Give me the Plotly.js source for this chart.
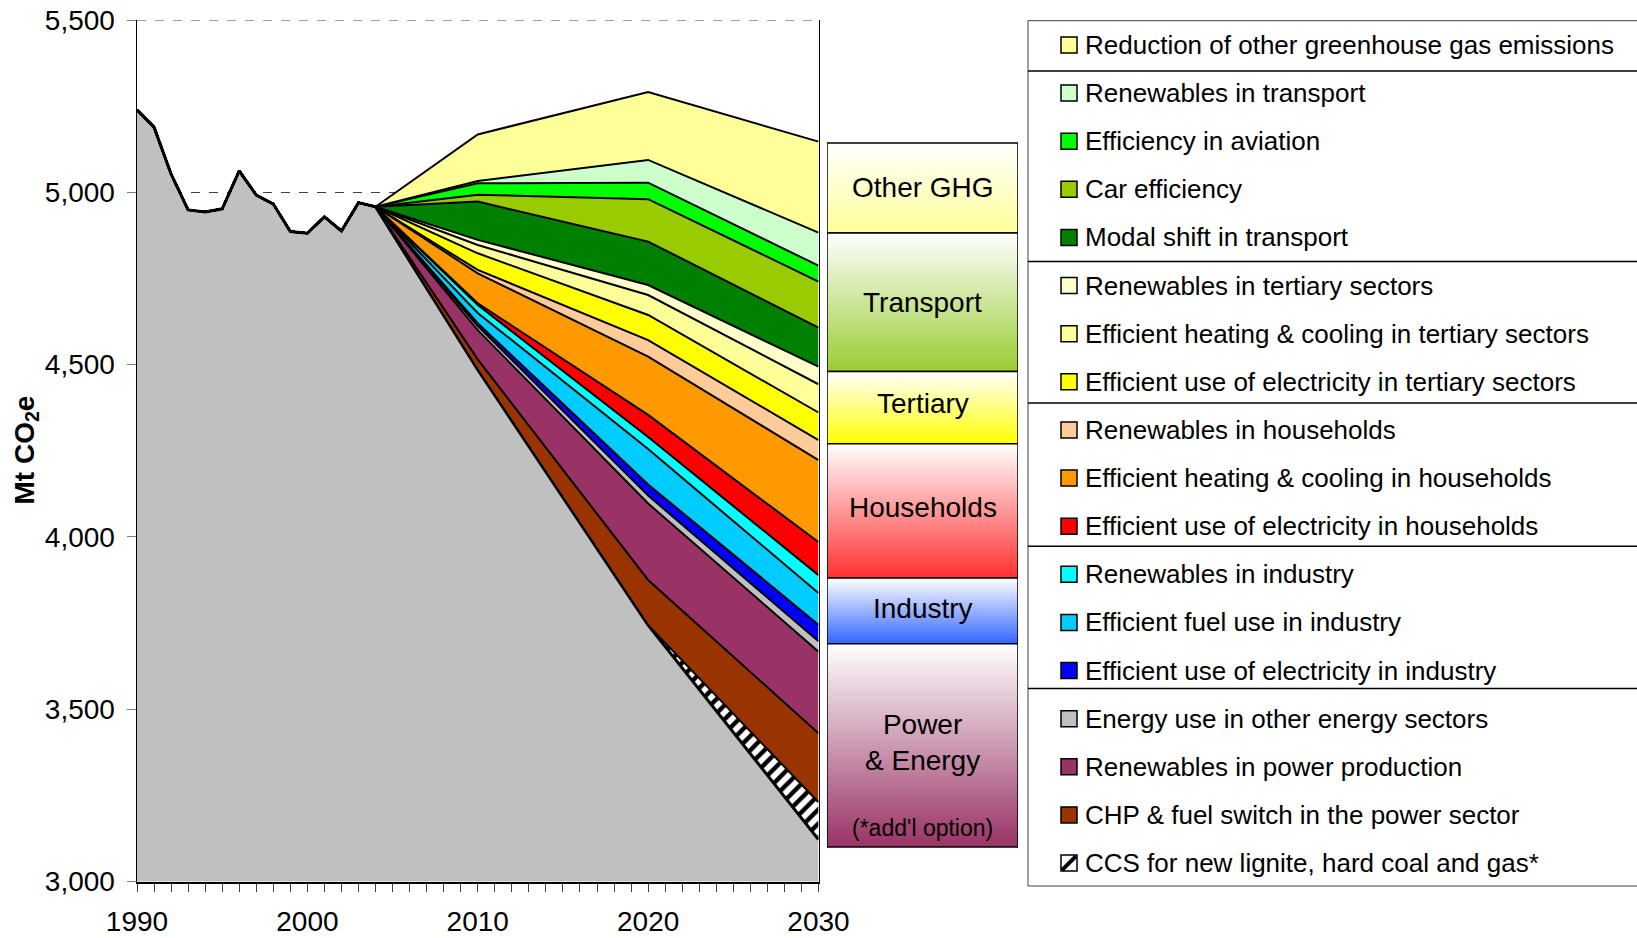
<!DOCTYPE html>
<html><head><meta charset="utf-8">
<script src="https://cdn.plot.ly/plotly-3.0.1.min.js"></script>
<style>html,body{margin:0;padding:0;background:#fff}#chart{width:1637px;height:938px}</style>
</head><body><div id="chart"></div>
<script>
// ---------- DATA ----------
const histYears = [1990,1991,1992,1993,1994,1995,1996,1997,1998,1999,2000,2001,2002,2003,2004];
const histEmissions = [5239,5189,5053,4949,4943,4952,5062,4992,4966,4886,4881,4929,4888,4970,4958];
const projYears = [2004,2010,2020,2030];
const remainingEmissions = [4958,4485,3744,3122];

// reduction wedges (Mt CO2e) at projYears, stacked bottom -> top
const ccs            = [0,0,0,108];
const chpFuelSwitch  = [0,30,131,200];
const renewPower     = [0,85,222,237];
const otherEnergy    = [0,12,23,30];
const elecIndustry   = [0,8,32,48];
const fuelIndustry   = [0,30,103,92];
const renewIndustry  = [0,23,35,52];
const elecHouseholds = [0,5,64,96];
const heatHouseholds = [0,87,169,238];
const renewHouseholds= [0,10,48,58];
const elecTertiary   = [0,48,73,80];
const heatTertiary   = [0,24,58,82];
const renewTertiary  = [0,15,29,51];
const modalShift     = [0,111,126,113];
const carEfficiency  = [0,20,123,134];
const aviation       = [0,33,48,46];
const renewTransport = [0,7,66,96];
const otherGHG       = [0,135,197,264];

const wedgeValues = [ccs,chpFuelSwitch,renewPower,otherEnergy,elecIndustry,fuelIndustry,renewIndustry,
  elecHouseholds,heatHouseholds,renewHouseholds,elecTertiary,heatTertiary,renewTertiary,
  modalShift,carEfficiency,aviation,renewTransport,otherGHG];
const wedgeNames = ['CCS for new lignite, hard coal and gas*','CHP & fuel switch in the power sector',
  'Renewables in power production','Energy use in other energy sectors',
  'Efficient use of electricity in industry','Efficient fuel use in industry','Renewables in industry',
  'Efficient use of electricity in households','Efficient heating & cooling in households','Renewables in households',
  'Efficient use of electricity in tertiary sectors','Efficient heating & cooling in tertiary sectors','Renewables in tertiary sectors',
  'Modal shift in transport','Car efficiency','Efficiency in aviation','Renewables in transport',
  'Reduction of other greenhouse gas emissions'];
const wedgeColors = ['#FFFFFF','#993300','#993366','#C0C0C0','#0000FF','#00CCFF','#00FFFF',
  '#FF0000','#FF9900','#FFCC99','#FFFF00','#FFFF99','#FFFFCC','#008000','#99CC00','#00FF00','#CCFFCC','#FFFF99'];

// sector boxes
const sectorNames = ['Other GHG','Transport','Tertiary','Households','Industry','Power<br>& Energy'];
const sectorEdges = [5143,4882,4480,4270,3881,3690,3100];
const sectorColors = ['#FFFF99','#99CC33','#FFFF00','#FF3030','#3366FF','#993366'];
const legendGroupEnds = [0,4,7,10,13]; // legend rows after which a separator is drawn

// ---------- LAYOUT HELPERS ----------
const W = 1637, H = 938;
const px = v => v / W, py = v => 1 - v / H;
const FONT = 'Liberation Sans, Arial, sans-serif';
const labelShift = [0, 0, 4, 3, 2, 3];          // small vertical nudges of sector labels (px)
const sepNudge = [2, 0, -3, -4, -6];            // separator nudges (px)

const traces = [];
traces.push({
  x: histYears.concat(projYears.slice(1)),
  y: histEmissions.concat(remainingEmissions.slice(1)),
  type: 'scatter', mode: 'lines', stackgroup: 'one', stackgaps: 'infer zero',
  fillcolor: '#C0C0C0', line: {color: '#000', width: 3}, hoverinfo: 'skip', name: 'Remaining emissions'
});
wedgeValues.forEach((vals, i) => {
  const t = {
    x: projYears, y: vals, type: 'scatter', mode: 'lines', stackgroup: 'one',
    fillcolor: wedgeColors[i], line: {color: '#000', width: 2}, hoverinfo: 'skip', name: wedgeNames[i]
  };
  if (i === 0) t.fillpattern = {shape: '/', fgcolor: '#000', bgcolor: '#FFFFFF', size: 10, solidity: 0.45};
  traces.push(t);
});

// sector boxes with vertical gradient
const annotations = [];
sectorNames.forEach((name, i) => {
  const top = sectorEdges[i], bot = sectorEdges[i + 1];
  traces.push({
    x: [0, 1, 1, 0, 0], y: [bot, bot, top, top, bot], xaxis: 'x2', yaxis: 'y',
    type: 'scatter', mode: 'lines', fill: 'toself',
    fillgradient: {type: 'vertical', colorscale: [[0, sectorColors[i]], [1, '#FFFFFF']]},
    line: {color: '#000', width: 1.5}, hoverinfo: 'skip', showlegend: false
  });
  annotations.push({
    xref: 'x2', yref: 'y', x: 0.5, y: (top + bot) / 2, yshift: labelShift[i], text: name, showarrow: false,
    font: {family: FONT, size: 28, color: '#000'}, xanchor: 'center', yanchor: 'middle'
  });
  if (i === sectorNames.length - 1) {
    annotations.push({
      xref: 'x2', yref: 'y', x: 0.5, y: bot, yshift: 4, text: "(*add'l option)", showarrow: false,
      font: {family: FONT, size: 23, color: '#000'}, xanchor: 'center', yanchor: 'bottom'
    });
  }
});

// custom legend
const shapes = [];
const legTop = 20.7, legBot = 886, legLeft = 1028;
shapes.push({type: 'rect', xref: 'paper', yref: 'paper', x0: px(legLeft), x1: px(W + 10),
  y0: py(legBot), y1: py(legTop), line: {color: '#404040', width: 1}, fillcolor: 'rgba(0,0,0,0)'});
const itemTop = 45, itemStep = 48.12;
const legendNames = wedgeNames.slice().reverse();
const legendColors = wedgeColors.slice().reverse();
legendNames.forEach((name, i) => {
  const c = itemTop + i * itemStep;
  shapes.push({type: 'rect', xref: 'paper', yref: 'paper', x0: px(1061), x1: px(1077),
    y0: py(c + 8), y1: py(c - 8), line: {color: '#000', width: 1.5}, fillcolor: legendColors[i]});
  if (i === legendNames.length - 1) {
    shapes.push({type: 'line', xref: 'paper', yref: 'paper', x0: px(1062), x1: px(1076),
      y0: py(c + 7), y1: py(c - 7), line: {color: '#000', width: 4}});
  }
  annotations.push({xref: 'paper', yref: 'paper', x: px(1083), y: py(c), text: name, showarrow: false,
    xanchor: 'left', yanchor: 'middle', font: {family: FONT, size: 26, color: '#000'}});
  const g = legendGroupEnds.indexOf(i);
  if (g >= 0) {
    const s = c + itemStep / 2 + sepNudge[g];
    shapes.push({type: 'line', xref: 'paper', yref: 'paper', x0: px(legLeft), x1: px(W + 10),
      y0: py(s), y1: py(s), line: {color: '#000', width: 1.5}});
  }
});

// dashed top border at the axis maximum
shapes.push({type: 'line', xref: 'paper', yref: 'y', x0: px(137), x1: px(818.5), y0: 5500, y1: 5500,
  line: {color: '#404040', width: 1, dash: 'dash'}, layer: 'below'});

// y-axis title
annotations.push({xref: 'paper', yref: 'paper', x: px(26), y: py(450.5), textangle: -90,
  text: '<b>Mt CO<sub>2</sub>e</b>', showarrow: false, xanchor: 'center', yanchor: 'middle',
  font: {family: FONT, size: 28, color: '#000'}});

const layout = {
  width: W, height: H, margin: {l: 0, r: 0, t: 0, b: 0},
  paper_bgcolor: '#fff', plot_bgcolor: '#fff', showlegend: false, hovermode: false,
  font: {family: FONT, color: '#000'},
  xaxis: {
    domain: [px(137), px(818.5)], range: [1990, 2030], tickmode: 'linear', tick0: 1990, dtick: 10,
    ticks: 'outside', ticklen: 8, tickwidth: 1, tickcolor: '#404040',
    minor: {tick0: 1990, dtick: 1, ticks: 'outside', ticklen: 8, tickwidth: 1, tickcolor: '#404040', showgrid: false},
    showline: true, linecolor: '#000', linewidth: 2, showgrid: false, zeroline: false,
    tickfont: {family: FONT, size: 28, color: '#000'}, ticklabelstandoff: 6, fixedrange: true
  },
  yaxis: {
    domain: [py(881.5), py(20)], range: [3000, 5500], tickvals: [3000, 3500, 4000, 4500, 5000, 5500],
    tickformat: ',', ticks: 'outside', ticklen: 9, tickwidth: 1, tickcolor: '#808080',
    showline: true, mirror: true, linecolor: '#000', linewidth: 1.5,
    showgrid: true, gridcolor: '#404040', griddash: 'dash', gridwidth: 1, zeroline: false,
    tickfont: {family: FONT, size: 28, color: '#000'}, ticklabelstandoff: 6, fixedrange: true
  },
  xaxis2: {domain: [px(827), px(1018)], range: [0, 1], visible: false, anchor: 'y', fixedrange: true},
  shapes: shapes, annotations: annotations
};

Plotly.newPlot('chart', traces, layout, {displayModeBar: false, staticPlot: true});
</script></body></html>
